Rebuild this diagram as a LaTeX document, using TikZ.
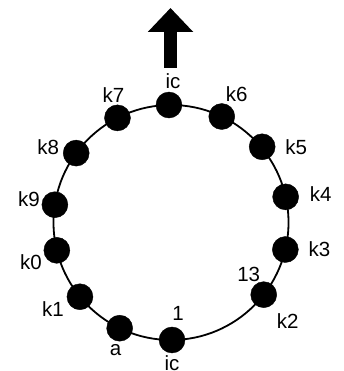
\documentclass[tikz,border=0pt]{standalone}
\usepackage{fontspec}
\setmainfont{Liberation Sans}
\usetikzlibrary{arrows.meta,positioning,calc}

\begin{document}
\begin{tikzpicture}[x=1pt, y=1pt, every node/.style={font=\fontsize{20.5}{20.5}\selectfont}]
\tikzset{dot/.style={draw, circle, fill=black, minimum size=26pt, inner sep=0pt}}
\tikzset{tag/.style={inner sep=0pt}}
\useasboundingbox (0,0) rectangle (343,371);
\coordinate (c) at (171,148.5);
% ring
\draw[line width=1.8pt] (c) circle (117.5pt);
% dots
\node[dot] (icT) at ($(c)+(91:117.5pt)$) {};
\node[dot] (k6) at ($(c)+(64.4:117.5pt)$) {};
\node[dot] (k5) at ($(c)+(39.7:118.5pt)$) {};
\node[dot] (k4) at ($(c)+(12.6:117.5pt)$) {};
\node[dot] (k3) at ($(c)+(-13.3:117.5pt)$) {};
\node[dot] (k2) at ($(c)+(-37.9:117.5pt)$) {};
\node[dot] (icB) at ($(c)+(-89.5:117.5pt)$) {};
\node[dot] (a) at ($(c)+(244.1:117.5pt)$) {};
\node[dot] (k1) at ($(c)+(219.2:117.5pt)$) {};
\node[dot] (k0) at ($(c)+(193.7:117.5pt)$) {};
\node[dot] (k9) at ($(c)+(171.3:117.5pt)$) {};
\node[dot] (k8) at ($(c)+(143.8:117.5pt)$) {};
\node[dot] (k7) at ($(c)+(117.1:117.5pt)$) {};
% labels
\node[tag] (lIcT) at ($(icT)+(4,24)$) {ic};
\node[tag] (lk6) at ($(k6)+(15,22)$) {k6};
\node[tag] (lk5) at ($(k5)+(34,0)$) {k5};
\node[tag] (lk4) at ($(k4)+(35,3)$) {k4};
\node[tag] (lk3) at ($(k3)+(34,0)$) {k3};
\node[tag] (l13) at ($(k2)+(-15,20)$) {13};
\node[tag] (lk2) at ($(k2)+(24,-26)$) {k2};
\node[tag] (l1) at ($(icB)+(6,27)$) {1};
\node[tag] (lIcB) at ($(icB)+(0,-23)$) {ic};
\node[tag] (la) at ($(a)+(-4,-22)$) {a};
\node[tag] (lk1) at ($(k1)+(-27,-12)$) {k1};
\node[tag] (lk0) at ($(k0)+(-26,-12)$) {k0};
\node[tag] (lk9) at ($(k9)+(-26,6)$) {k9};
\node[tag] (lk8) at ($(k8)+(-28,6)$) {k8};
\node[tag] (lk7) at ($(k7)+(-4,23)$) {k7};
% arrow
\coordinate (tail) at (170.5,303);
\coordinate (tip) at (170.5,363);
\draw[line width=13pt, -{Triangle[width=44pt,length=24pt]}] (tail) -- (tip);
\end{tikzpicture}
\end{document}
